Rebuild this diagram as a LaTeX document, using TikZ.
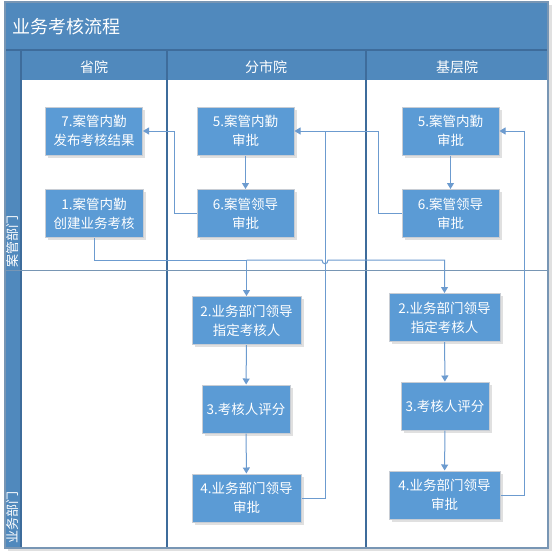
\documentclass[tikz,border=0pt]{standalone}
\usepackage{fontspec}
\setmainfont{Noto Sans CJK SC}
\usetikzlibrary{arrows.meta}

\definecolor{bandblue}{RGB}{80,137,189}
\definecolor{rulerblue}{RGB}{62,108,155}
\definecolor{boxblue}{RGB}{91,155,213}
\definecolor{boxedge}{RGB}{200,205,212}
\definecolor{flowline}{RGB}{108,155,207}
\definecolor{frameline}{RGB}{120,150,180}

\tikzset{
  stepbox/.style={draw=boxedge, line width=1pt, fill=boxblue, text=white,
    align=center, inner sep=0pt, minimum height=48pt,
    font=\fontsize{13.5}{19}\selectfont},
  boxshadow/.style={fill=black!12, draw=none},
  conn/.style={draw=flowline, line width=1pt},
  arr/.style={conn, -{Triangle[width=7pt,length=6pt]}},
  divider/.style={draw=rulerblue, line width=1.2pt},
  headtext/.style={text=white, font=\fontsize{14}{16}\selectfont},
  lanetext/.style={text=white, rotate=90, font=\fontsize{13}{15}\selectfont}
}

\begin{document}
\begin{tikzpicture}[x=1pt,y=-1pt]
  \useasboundingbox (0,0) rectangle (554,554);
  \fill[white] (0,0) rectangle (554,554);

  % outer frame with a soft shadow
  \fill[black!12] (8,5) rectangle (552,551);
  \fill[white] (5,2) rectangle (548,548);

  % title band, header row and lane-label column
  \fill[bandblue] (5,2) rectangle (548,80);
  \fill[bandblue] (5,80) rectangle (21,548);
  \draw[divider] (5,50) -- (548,50);

  % swimlane grid
  \draw[divider] (21,50) -- (21,548);
  \draw[divider] (167,50) -- (167,548);
  \draw[divider] (366,50) -- (366,548);
  \draw[draw=frameline, line width=1pt] (5,270) -- (548,270);
  \draw[draw=frameline, line width=1.2pt] (5,2) rectangle (548,548);

  % texts of the band, header and lanes
  \node[text=white, anchor=west, font=\fontsize{18}{21}\selectfont] (title) at (9,27) {业务考核流程};
  \node[headtext] (h1) at (94,67) {省院};
  \node[headtext] (h2) at (266,67) {分市院};
  \node[headtext] (h3) at (457,67) {基层院};
  \node[lanetext] (lane1) at (13,241) {案管部门};
  \node[lanetext] (lane2) at (13,517) {业务部门};

  % shadows behind the step boxes
  \foreach \cx/\cy/\w in {94/131/97, 94/213.5/98, 245.5/131/97, 245.5/213.5/97,
      450.5/131/97, 450.5/213.5/97, 246.5/320.5/109, 246/409/88, 246.5/498/109,
      444.5/317.5/111, 445/406/88, 444.5/495/111}
    \fill[boxshadow] (\cx-\w/2+2.5,\cy-24+2.5) rectangle (\cx+\w/2+2.5,\cy+24+2.5);

  % step boxes
  \node[stepbox, minimum width=97pt] (p7) at (94,131) {7.案管内勤\\发布考核结果};
  \node[stepbox, minimum width=98pt] (p1) at (94,213.5) {1.案管内勤\\创建业务考核};
  \node[stepbox, minimum width=97pt] (f5) at (245.5,131) {5.案管内勤\\审批};
  \node[stepbox, minimum width=97pt] (f6) at (245.5,213.5) {6.案管领导\\审批};
  \node[stepbox, minimum width=97pt] (j5) at (450.5,131) {5.案管内勤\\审批};
  \node[stepbox, minimum width=97pt] (j6) at (450.5,213.5) {6.案管领导\\审批};
  \node[stepbox, minimum width=109pt] (f2) at (246.5,320.5) {2.业务部门领导\\指定考核人};
  \node[stepbox, minimum width=88pt] (f3) at (246,409) {3.考核人评分};
  \node[stepbox, minimum width=109pt] (f4) at (246.5,498) {4.业务部门领导\\审批};
  \node[stepbox, minimum width=111pt] (j2) at (444.5,317.5) {2.业务部门领导\\指定考核人};
  \node[stepbox, minimum width=88pt] (j3) at (445,406) {3.考核人评分};
  \node[stepbox, minimum width=111pt] (j4) at (444.5,495) {4.业务部门领导\\审批};

  % bend points of the connectors
  \coordinate (split) at (94,260);
  \coordinate (hopL) at (322,260);
  \coordinate (hopR) at (328,260);
  \coordinate (fret) at (325,131);
  \coordinate (jret) at (378,131);
  \coordinate (pret) at (174,131);
  \coordinate (lret) at (524,131);

  % straight arrows inside each lane
  \draw[arr] (f5) -- (f6);
  \draw[arr] (j5) -- (j6);
  \draw[arr] (f2) -- (f3);
  \draw[arr] (f3) -- (f4);
  \draw[arr] (j2) -- (j3);
  \draw[arr] (j3) -- (j4);

  % step 1 hands over to both departments
  \draw[arr] (p1.south) |- (split) -| (f2.north);
  \draw[arr] (f2.north |- split) -- (hopL)
      .. controls ([yshift=-5pt]hopL) and ([yshift=-5pt]hopR) .. (hopR)
      -| (j2.north);

  % approvals go back up to the case-management clerks
  \draw[arr] (f4.east) -| (fret) -- (f5.east);
  \draw[conn] (j6.west) -| (jret) -- (fret);
  \draw[arr] (f6.west) -| (pret) -- (p7.east);
  \draw[arr] (j4.east) -| (lret) -- (j5.east);
\end{tikzpicture}
\end{document}
